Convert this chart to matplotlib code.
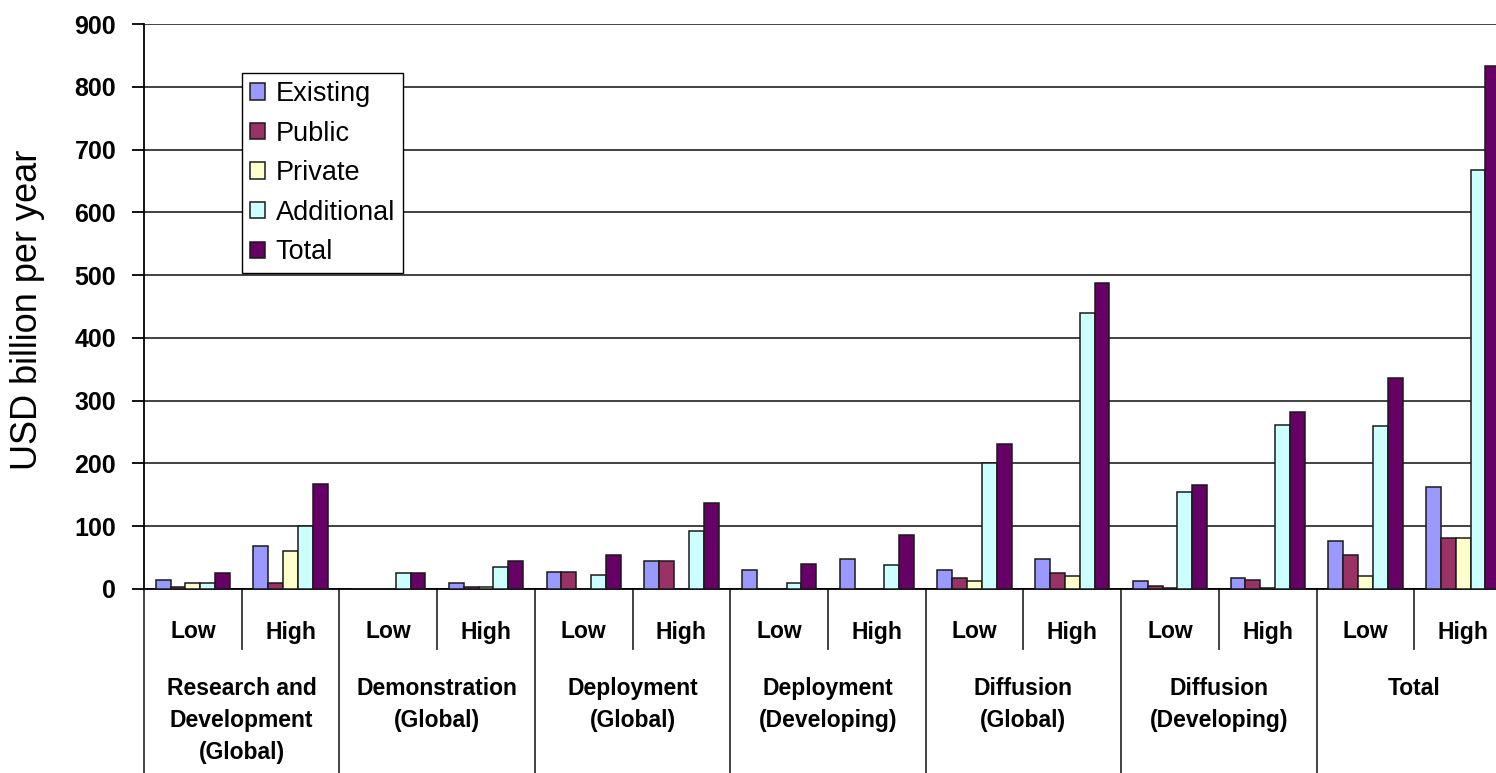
import numpy as np
import matplotlib
matplotlib.use("Agg")
import matplotlib.pyplot as plt
import matplotlib.transforms as mtransforms

plt.rcParams['font.family'] = ['Liberation Sans', 'DejaVu Sans']

# Categories along the x axis
groups = ["Research and\nDevelopment\n(Global)", "Demonstration\n(Global)",
          "Deployment\n(Global)", "Deployment\n(Developing)",
          "Diffusion\n(Global)", "Diffusion\n(Developing)", "Total"]
scenarios = ["Low", "High"]

# Values in USD billion per year, one entry per (group, scenario)
existing = [15, 69, 0, 9, 27, 44, 30, 48, 30, 48, 12, 17, 76, 163]
public = [3, 10, 0, 3, 27, 44, 0, 0, 17, 26, 5, 14, 54, 81]
private = [10, 60, 0, 3, 0, 0, 0, 0, 12, 20, 1, 1, 20, 81]
additional = [10, 100, 26, 35, 23, 93, 9, 38, 200, 439, 154, 262, 259, 667]
total = [26, 168, 26, 44, 54, 137, 40, 86, 231, 488, 166, 282, 336, 833]

series_names = ["Existing", "Public", "Private", "Additional", "Total"]
series_colors = ["#9999FF", "#993366", "#FFFFCC", "#CCFFFF", "#660066"]
series = [existing, public, private, additional, total]

W, H = 1496, 773
fig = plt.figure(figsize=(W / 100, H / 100), dpi=100)

# Plot area, right edge runs a little past the figure
ax = fig.add_axes([144 / W, 1 - 589 / H, 1368 / W, 565 / H])

n = len(existing)
x = np.arange(n)
bar_w = 0.152
start = 0.12
for j, (vals, name, col) in enumerate(zip(series, series_names, series_colors)):
    ax.bar(x + start + bar_w * (j + 0.5), vals, width=bar_w, color=col,
           edgecolor="#1a1a1a", linewidth=1.1, label=name, zorder=3)

ax.set_xlim(0, n)
ax.set_ylim(0, 900)
ax.set_yticks(np.arange(0, 901, 100))
ax.set_xticks([])
ax.yaxis.grid(True, color="#333333", linewidth=1.3, zorder=0)
ax.set_axisbelow(True)
for side in ["top", "right"]:
    ax.spines[side].set_visible(False)
ax.spines["left"].set_linewidth(1.3)
ax.spines["bottom"].set_linewidth(1.3)
ax.tick_params(axis="y", length=9, width=1.3, pad=11, labelsize=18)
for lab in ax.get_yticklabels():
    lab.set_fontweight("bold")

fig.text(28 / W, 1 - 310 / H, "USD billion per year", rotation=90,
         ha="center", va="center", fontsize=26)

# Two-level category axis drawn as a table below the plot
trans = mtransforms.blended_transform_factory(ax.transData, fig.transFigure)
y_axis = 1 - 589 / H
y_short = 1 - 649 / H
for i in range(n + 1):
    y_end = 0 if i % 2 == 0 else y_short
    ax.plot([i, i], [y_axis, y_end], transform=trans, color="#333333",
            linewidth=1.3, clip_on=False)

for i in range(n):
    ax.text(i + 0.5, 1 - 632 / H, scenarios[i % 2], transform=trans,
            ha="center", va="center", fontsize=16.5, fontweight="bold")

for g, name in enumerate(groups):
    ax.text(2 * g + 1, 1 - 677 / H, name, transform=trans, ha="center",
            va="top", fontsize=16.5, fontweight="bold", linespacing=1.5)

leg = ax.legend(loc="upper left", bbox_to_anchor=(242 / W, 1 - 73 / H),
                bbox_transform=fig.transFigure, borderaxespad=0,
                fancybox=False, framealpha=1, edgecolor="black",
                fontsize=19.5, handlelength=0.55, handleheight=0.55,
                handletextpad=0.4, labelspacing=0.5, borderpad=0.3)
leg.get_frame().set_linewidth(1.0)

fig.savefig("out.png", dpi=100)
